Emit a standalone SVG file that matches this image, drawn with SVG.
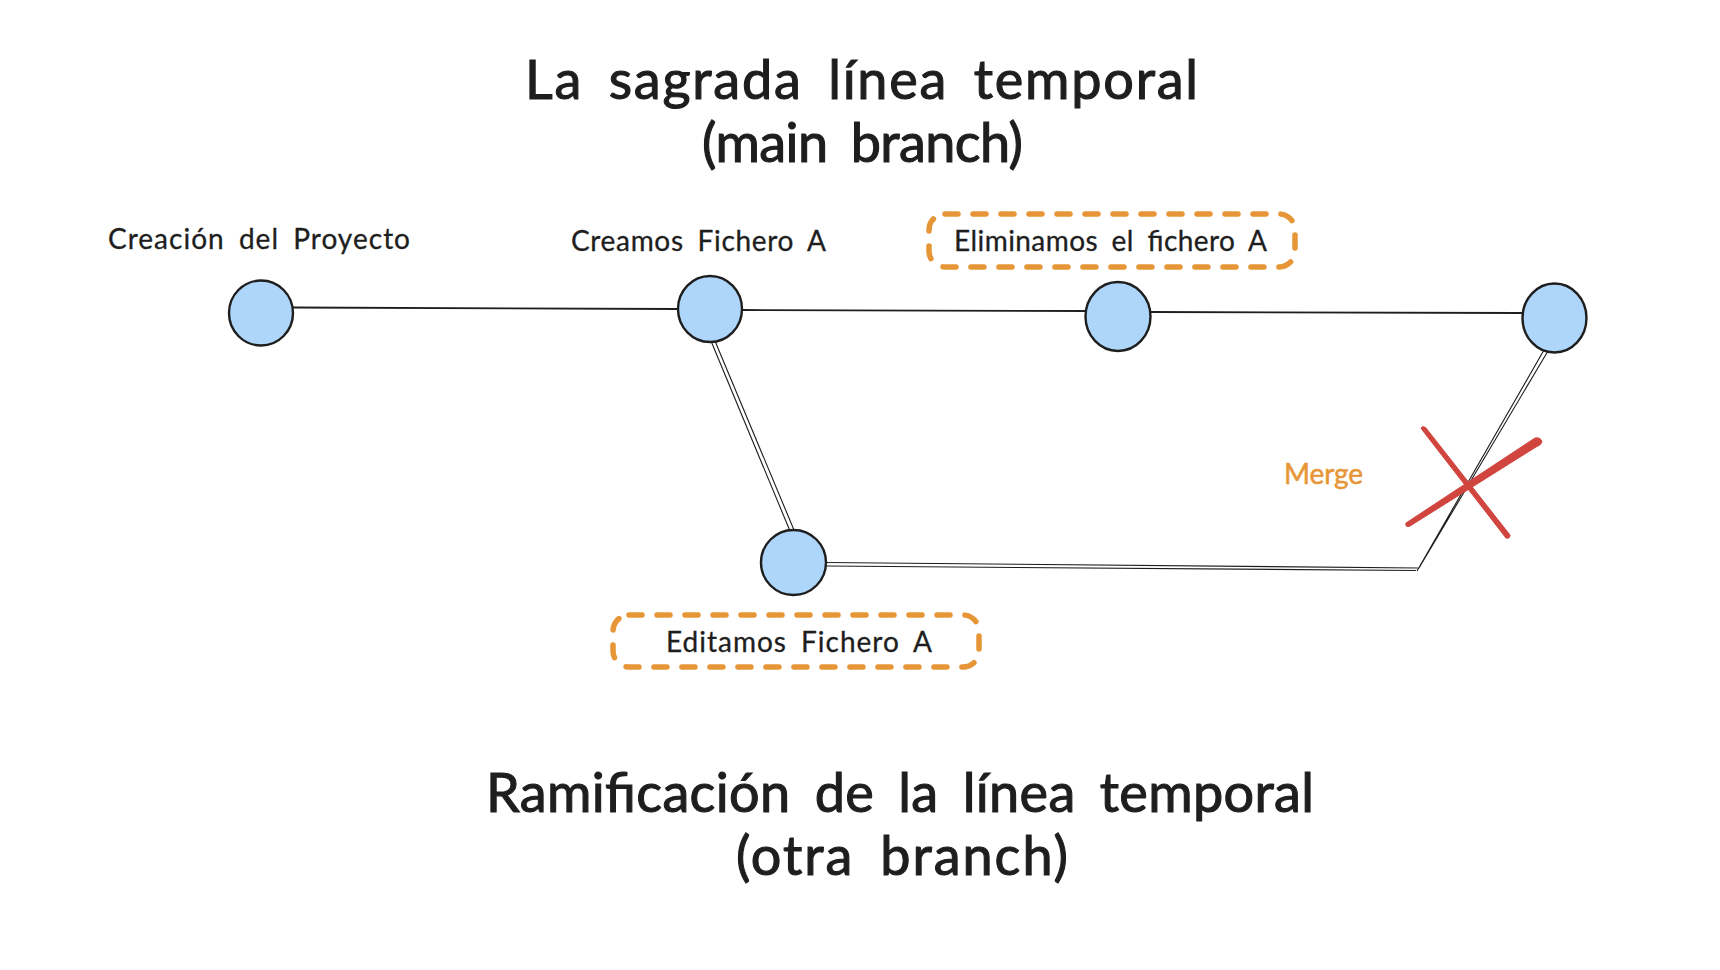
<svg xmlns="http://www.w3.org/2000/svg" width="1720" height="970" viewBox="0 0 1720 970">
<style>
text{font-family:"Lato","Noto Sans",sans-serif;fill:#1e1e1e}
.t{font-size:54px;word-spacing:10px;stroke:#1e1e1e;stroke-width:1.1px}
.s{font-size:28px;word-spacing:6px;stroke:#1e1e1e;stroke-width:.3px}
.n{fill:#aed6fb;stroke:#1e1e1e;stroke-width:2.4}
.c{fill:none;stroke:#1e1e1e;stroke-width:1.8}
.k{fill:none;stroke:#1e1e1e;stroke-width:1.1}
.d{fill:none;stroke:#e69636;stroke-width:5.5;stroke-linecap:round;stroke-dasharray:13 15}
.x{fill:#d1453f;stroke:#d1453f;stroke-width:1;stroke-linejoin:round}
</style>
<rect width="1720" height="970" fill="#fff"/>
<g id="connectors">
<path class="c" d="M293 307.5L677 309"/>
<path class="c" d="M742 310L1086 311"/>
<path class="c" d="M1151 312L1522 313"/>
<path class="k" d="M711 341L790 531M715 341L794 530"/>
<path class="k" d="M826 562.5L1418 568M826 566L1416 570.5"/>
<path class="k" d="M1417 571L1544 350M1419 568L1548 351"/>
</g>
<g id="node-1"><ellipse class="n" cx="261" cy="313" rx="32" ry="32.5"/></g>
<g id="node-2"><ellipse class="n" cx="710" cy="309" rx="32" ry="33"/></g>
<g id="node-3"><ellipse class="n" cx="1118" cy="316.5" rx="32.5" ry="34.5"/></g>
<g id="node-4"><ellipse class="n" cx="1554.5" cy="318" rx="32" ry="34.5"/></g>
<g id="node-5"><circle class="n" cx="793.5" cy="562.5" r="32.5"/></g>
<g id="cross">
<path class="x" d="M1421 428Q1423 425 1426 428L1510 535Q1510 539 1506 538L1423 431Z"/>
<path class="x" d="M1406 523L1535 438Q1541 437 1542 442Q1541 445 1536 447L1410 526Q1405 528 1406 523Z"/>
</g>
<g id="title-main">
<text class="t" x="525" y="99" textLength="673" lengthAdjust="spacing">La sagrada línea temporal</text>
<text class="t" x="702" y="162" textLength="321" lengthAdjust="spacing">(main branch)</text>
</g>
<g id="title-branch">
<text class="t" x="486" y="812" textLength="828" lengthAdjust="spacing">Ramificación de la línea temporal</text>
<text class="t" x="736" y="875" textLength="332" lengthAdjust="spacing">(otra branch)</text>
</g>
<g id="label-1"><text class="s" x="108" y="249" textLength="302" lengthAdjust="spacing">Creación del Proyecto</text></g>
<g id="label-2"><text class="s" x="571" y="251" textLength="255" lengthAdjust="spacing">Creamos Fichero A</text></g>
<g id="label-3"><rect class="d" x="929" y="214" width="366" height="53" rx="16"/><text class="s" x="954" y="251" textLength="313" lengthAdjust="spacing">Eliminamos el fichero A</text></g>
<g id="label-5"><rect class="d" x="613" y="615" width="366" height="52" rx="16"/><text class="s" x="666" y="652" textLength="266" lengthAdjust="spacing">Editamos Fichero A</text></g>
<g id="label-merge"><text class="s" x="1284" y="484" textLength="79" lengthAdjust="spacing" style="fill:#e69636;stroke:#e69636;stroke-width:.5px">Merge</text></g>
</svg>
